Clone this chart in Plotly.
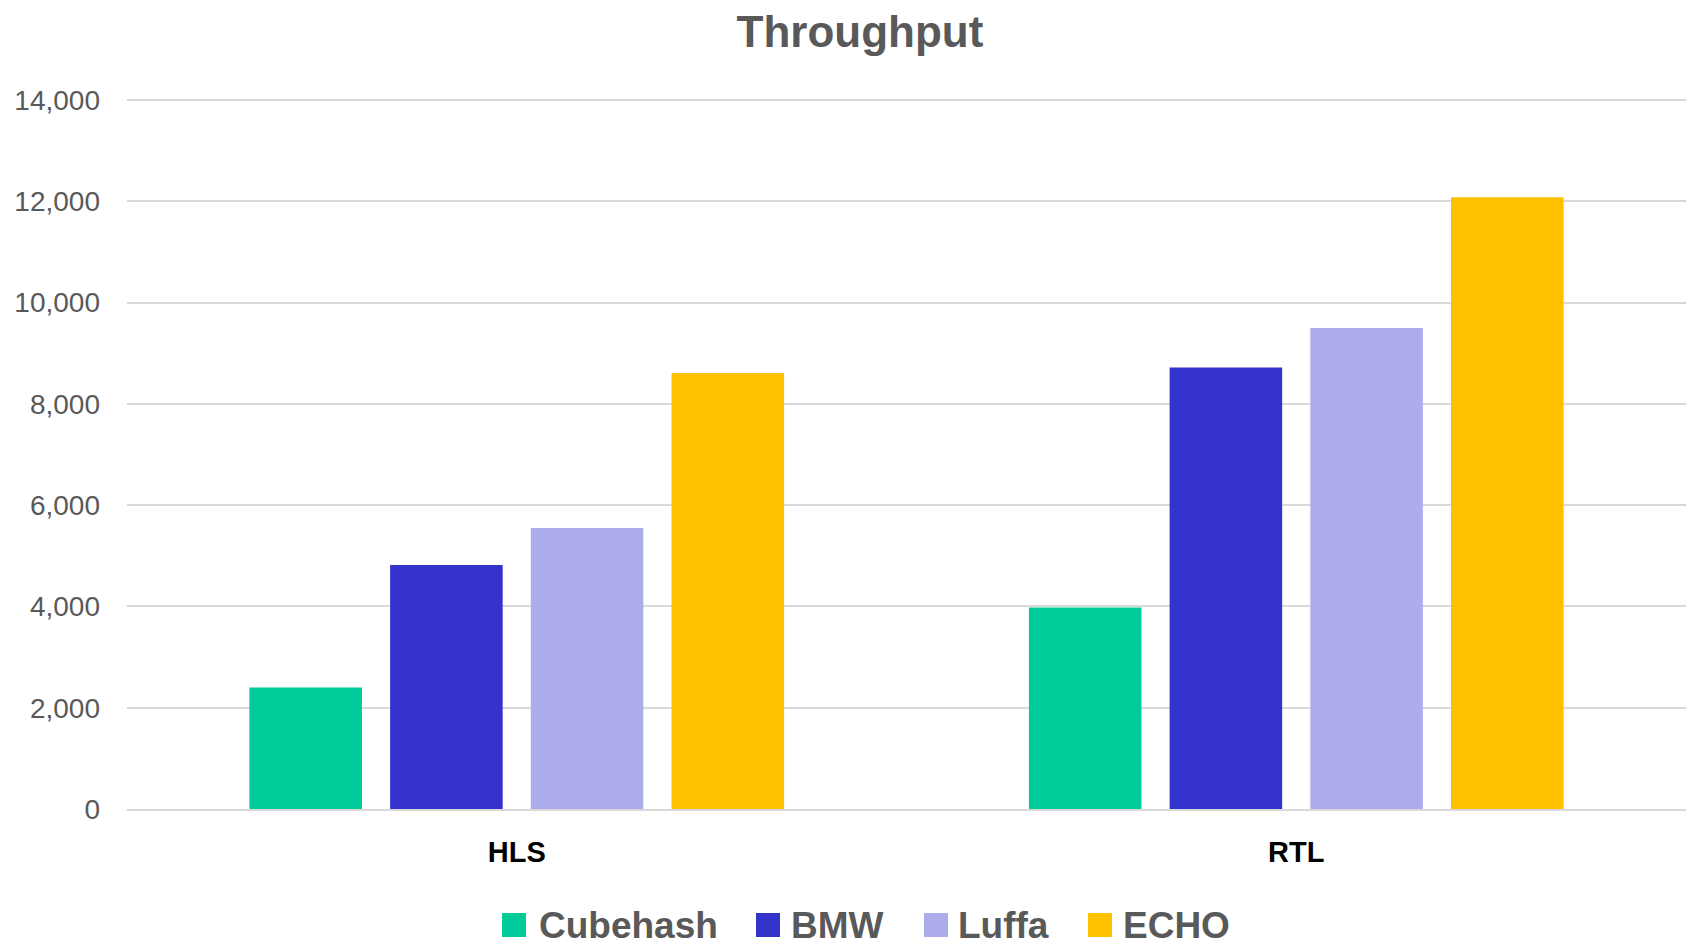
import plotly.graph_objects as go

# Data
categories = ["HLS", "RTL"]
series_names = ["Cubehash", "BMW", "Luffa", "ECHO"]
cubehash = [2400, 3980]
bmw = [4820, 8720]
luffa = [5550, 9500]
echo = [8610, 12080]
y_ticks = [0, 2000, 4000, 6000, 8000, 10000, 12000, 14000]

series_values = [cubehash, bmw, luffa, echo]
colors = ["#00CC99", "#3333CC", "#AEADEB", "#FFC000"]

W, H = 1686, 947
Y_MAX = 14040
M_L, M_R, M_T, M_B = 127, 0, 98, 138
FONT = "Liberation Sans, Arial, sans-serif"
GRAY = "#595959"

fig = go.Figure()
for name, vals, col in zip(series_names, series_values, colors):
    fig.add_trace(go.Bar(name=name, x=categories, y=vals,
                         marker=dict(color=col, line=dict(width=0)),
                         showlegend=False))

fig.update_layout(
    width=W, height=H,
    margin=dict(l=M_L, r=M_R, t=M_T, b=M_B),
    paper_bgcolor="white", plot_bgcolor="white",
    barmode="group", bargap=0.278, bargroupgap=0.2,
    title=dict(text="<b>Throughput</b>", x=860 / W, xref="container",
               xanchor="center", y=1 - 32 / H, yref="container",
               yanchor="middle",
               font=dict(family=FONT, size=44, color=GRAY)),
    font=dict(family=FONT, color=GRAY),
)

fig.update_yaxes(range=[0, Y_MAX], tickvals=y_ticks, tickformat=",d",
                 showgrid=True, gridcolor="#D9D9D9", gridwidth=2,
                 zeroline=False, showline=False, ticks="",
                 ticklabelstandoff=26,
                 tickfont=dict(family=FONT, size=28, color=GRAY))
fig.update_xaxes(showline=True, linecolor="#D9D9D9", linewidth=2,
                 ticks="", ticklabelstandoff=16,
                 tickfont=dict(family=FONT, size=29, color="black"),
                 tickvals=categories,
                 ticktext=["<b>%s</b>" % c for c in categories])

# Legend row drawn below the plot area
plot_w = W - M_L - M_R
plot_h = H - M_T - M_B
def px_x(px):
    return (px - M_L) / plot_w
def px_y(py):
    return (H - M_B - py) / plot_h

legend_square_left = [502, 756, 924, 1088]
legend_text_left = [537, 789, 956, 1121]
legend_cy = 925
sq = 24
for name, col, sx, tx in zip(series_names, colors, legend_square_left, legend_text_left):
    fig.add_shape(type="rect", xref="paper", yref="paper",
                  x0=px_x(sx), x1=px_x(sx + sq),
                  y0=px_y(legend_cy + sq / 2), y1=px_y(legend_cy - sq / 2),
                  fillcolor=col, line=dict(width=0))
    fig.add_annotation(xref="paper", yref="paper", x=px_x(tx), y=px_y(legend_cy),
                       xanchor="left", yanchor="middle", showarrow=False,
                       text="<b>%s</b>" % name,
                       font=dict(family=FONT, size=37, color=GRAY))

fig.write_html("out.html")
